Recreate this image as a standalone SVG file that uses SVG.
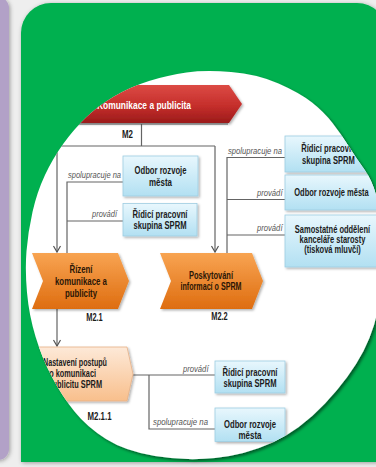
<svg xmlns="http://www.w3.org/2000/svg" width="376" height="467" viewBox="0 0 376 467">
<defs>
<style>
.t{font-family:'Liberation Sans',Arial,sans-serif;font-weight:bold;font-size:10px;fill:#1b1b1b;text-anchor:middle}
.tl{text-anchor:start}
.ot{fill:#2a1606}
.lbl{font-family:'Liberation Sans',Arial,sans-serif;font-style:italic;font-size:9.5px;fill:#555;text-anchor:start}
.con{fill:none;stroke:#646464;stroke-width:1.2}
.arr{marker-end:url(#ah)}
.box{fill:url(#gBlue);stroke:#9dcde2;stroke-width:0.8;filter:url(#sh)}
.chev{fill:url(#gOrange);filter:url(#sh)}
</style>
<linearGradient id="gBlue" x1="0" y1="0" x2="0" y2="1"><stop offset="0" stop-color="#e8f7fd"/><stop offset="1" stop-color="#b2e0f2"/></linearGradient>
<linearGradient id="gOrange" x1="0" y1="0" x2="0" y2="1"><stop offset="0" stop-color="#f8a452"/><stop offset="1" stop-color="#de6d10"/></linearGradient>
<linearGradient id="gPeach" x1="0" y1="0" x2="0" y2="1"><stop offset="0" stop-color="#fde9d8"/><stop offset="1" stop-color="#f8bf8c"/></linearGradient>
<linearGradient id="gRed" x1="0" y1="0" x2="0" y2="1"><stop offset="0" stop-color="#dc4b45"/><stop offset="0.55" stop-color="#c52e2b"/><stop offset="1" stop-color="#9b1b1b"/></linearGradient>
<filter id="sh" x="-20%" y="-20%" width="140%" height="150%"><feDropShadow dx="1.5" dy="1.5" stdDeviation="1.2" flood-color="#000" flood-opacity="0.3"/></filter>
<filter id="psh" x="-20%" y="-20%" width="140%" height="140%"><feDropShadow dx="1" dy="1" stdDeviation="2" flood-color="#000" flood-opacity="0.35"/></filter>
<filter id="wsh" x="-10%" y="-10%" width="120%" height="120%"><feDropShadow dx="2" dy="2" stdDeviation="1.5" flood-color="#000" flood-opacity="0.5"/></filter>
<marker id="ah" markerUnits="userSpaceOnUse" markerWidth="12" markerHeight="12" refX="0" refY="0" orient="auto" overflow="visible"><path d="M-6,-3.5 L0,0 L-6,3.5" fill="none" stroke="#555" stroke-width="1.2"/></marker>
<clipPath id="blob"><path d="M 186.5 72.5 Q 205 70 231 72 Q 257 74 278.5 83.5 Q 300 93 312 102.5 Q 324 112 332.5 123 Q 341 134 348.5 146 Q 356 158 364 169 Q 372 180 376 195 Q 380 210 382 236 Q 384 262 380.5 293.5 Q 377 325 363.5 351 Q 350 377 325 403.5 Q 300 430 272.5 442.5 Q 245 455 215 458 Q 185 461 155 456 Q 125 451 106 439 Q 87 427 74.5 411.5 Q 62 396 52 377 Q 42 358 35.5 336.5 Q 29 315 27 292.5 Q 25 270 26.5 251 Q 28 232 32.5 212 Q 37 192 45 175 Q 53 158 63.5 143.5 Q 74 129 86 117.5 Q 98 106 114 96.5 Q 130 87 149 81 Q 168 75 186.5 72.5 Z"/></clipPath>
</defs>

<rect width="376" height="467" fill="#eeeeee"/>
<rect x="-40" y="-3" width="49" height="463" rx="11" fill="#b2a1c7" filter="url(#psh)"/>
<path d="M21,33 A30,30 0 0 1 51,3 L357,3 A30,30 0 0 1 387,33 L387,462 L21,462 Z" fill="#00b050" filter="url(#psh)"/>
<path d="M 186.5 72.5 Q 205 70 231 72 Q 257 74 278.5 83.5 Q 300 93 312 102.5 Q 324 112 332.5 123 Q 341 134 348.5 146 Q 356 158 364 169 Q 372 180 376 195 Q 380 210 382 236 Q 384 262 380.5 293.5 Q 377 325 363.5 351 Q 350 377 325 403.5 Q 300 430 272.5 442.5 Q 245 455 215 458 Q 185 461 155 456 Q 125 451 106 439 Q 87 427 74.5 411.5 Q 62 396 52 377 Q 42 358 35.5 336.5 Q 29 315 27 292.5 Q 25 270 26.5 251 Q 28 232 32.5 212 Q 37 192 45 175 Q 53 158 63.5 143.5 Q 74 129 86 117.5 Q 98 106 114 96.5 Q 130 87 149 81 Q 168 75 186.5 72.5 Z" fill="#ffffff" filter="url(#wsh)"/>

<g clip-path="url(#blob)">
<g id="connectors">
<path class="con" d="M0,124 H228"/>
<path class="con" d="M141.5,124 V146"/>
<path class="con" d="M57,146 H215"/>
<path class="con arr" d="M57,146 V252"/>
<path class="con arr" d="M215,146 V252"/>
<path class="con" d="M123,182 H67 V253"/>
<path class="con" d="M67,221 H123"/>
<path class="con" d="M285,157.5 H227 V253"/>
<path class="con" d="M227,199.5 H285"/>
<path class="con" d="M227,235 H285"/>
<path class="con arr" d="M57,309 V346"/>
<path class="con" d="M133,375 H215"/>
<path class="con" d="M149,375 V429 H215"/>
<text class="lbl" x="68" y="178" textLength="53" lengthAdjust="spacingAndGlyphs">spolupracuje na</text>
<text class="lbl" x="92" y="217" textLength="25" lengthAdjust="spacingAndGlyphs">provádí</text>
<text class="lbl" x="228" y="153.5" textLength="54" lengthAdjust="spacingAndGlyphs">spolupracuje na</text>
<text class="lbl" x="257" y="195.5" textLength="25.5" lengthAdjust="spacingAndGlyphs">provádí</text>
<text class="lbl" x="257" y="231" textLength="25.5" lengthAdjust="spacingAndGlyphs">provádí</text>
<text class="lbl" x="183" y="372" textLength="25.5" lengthAdjust="spacingAndGlyphs">provádí</text>
<text class="lbl" x="153" y="425" textLength="55" lengthAdjust="spacingAndGlyphs">spolupracuje na</text>
</g>

<g id="n-m2">
<polygon points="-10,85 229,85 242,104 229,123 -10,123" fill="url(#gRed)" filter="url(#sh)"/>
<text class="t tl" x="97" y="109" style="fill:#ffffff;font-size:11px" textLength="94" lengthAdjust="spacingAndGlyphs">Komunikace a publicita</text>
<text class="t" x="127.5" y="138" textLength="11" lengthAdjust="spacingAndGlyphs">M2</text>
</g>

<g id="n-odbor-1">
<rect class="box" x="123" y="156" width="75" height="40"/>
<text class="t" x="160.5" y="174" textLength="52" lengthAdjust="spacingAndGlyphs">Odbor rozvoje</text>
<text class="t" x="160.5" y="186" textLength="23" lengthAdjust="spacingAndGlyphs">města</text>
</g>

<g id="n-ridici-1">
<rect class="box" x="123" y="203.5" width="74" height="32.5"/>
<text class="t" x="160" y="217.5" textLength="55" lengthAdjust="spacingAndGlyphs">Řídicí pracovní</text>
<text class="t" x="160" y="229" textLength="53" lengthAdjust="spacingAndGlyphs">skupina SPRM</text>
</g>

<g id="n-ridici-2">
<rect class="box" x="285" y="136" width="87" height="36"/>
<text class="t" transform="translate(328.5,152) scale(0.76,1)">Řídicí pracovní</text>
<text class="t" transform="translate(328.5,164) scale(0.76,1)">skupina SPRM</text>
</g>

<g id="n-odbor-2">
<rect class="box" x="285" y="175" width="95" height="35"/>
<text class="t" transform="translate(331.5,195.5) scale(0.75,1)">Odbor rozvoje města</text>
</g>

<g id="n-samostatne">
<rect class="box" x="285" y="215" width="95" height="52"/>
<text class="t" transform="translate(332.5,232.5) scale(0.75,1)">Samostatné oddělení</text>
<text class="t" transform="translate(332.5,242.5) scale(0.75,1)">kanceláře starosty</text>
<text class="t" transform="translate(332.5,252.5) scale(0.75,1)">(tisková mluvčí)</text>
</g>

<g id="n-rizeni">
<polygon class="chev" points="32,253 118,253 129,281 118,309 32,309 43,281"/>
<text class="t ot" x="81" y="272.5" textLength="23" lengthAdjust="spacingAndGlyphs">Řízení</text>
<text class="t ot" x="81" y="284.5" textLength="52" lengthAdjust="spacingAndGlyphs">komunikace a</text>
<text class="t ot" x="81" y="296.5" textLength="32" lengthAdjust="spacingAndGlyphs">publicity</text>
<text class="t" x="94.5" y="321" textLength="16.5" lengthAdjust="spacingAndGlyphs">M2.1</text>
</g>

<g id="n-poskytovani">
<polygon class="chev" points="160,253 252,253 263,281 252,309 160,309 171,281"/>
<text class="t ot" x="211" y="278.5" textLength="44" lengthAdjust="spacingAndGlyphs">Poskytování</text>
<text class="t ot" x="211" y="289.5" textLength="61" lengthAdjust="spacingAndGlyphs">informací o SPRM</text>
<text class="t" x="219.5" y="320" textLength="16.5" lengthAdjust="spacingAndGlyphs">M2.2</text>
</g>

<g id="n-nastaveni">
<polygon points="10,347 127,347 133,374 127,401 10,401" fill="url(#gPeach)" stroke="#e6b086" stroke-width="0.8" filter="url(#sh)"/>
<text class="t tl" x="43" y="366" textLength="64" lengthAdjust="spacingAndGlyphs">Nastavení postupů</text>
<text class="t tl" x="42" y="377" textLength="54" lengthAdjust="spacingAndGlyphs">pro komunikaci</text>
<text class="t tl" x="42" y="388" textLength="60" lengthAdjust="spacingAndGlyphs">a publicitu SPRM</text>
<text class="t" x="99.5" y="420" textLength="24" lengthAdjust="spacingAndGlyphs">M2.1.1</text>
</g>

<g id="n-ridici-3">
<rect class="box" x="215" y="361" width="70" height="32"/>
<text class="t" x="250" y="376" textLength="55" lengthAdjust="spacingAndGlyphs">Řídicí pracovní</text>
<text class="t" x="250" y="387" textLength="53" lengthAdjust="spacingAndGlyphs">skupina SPRM</text>
</g>

<g id="n-odbor-3">
<rect class="box" x="215" y="408" width="70" height="33.5"/>
<text class="t" x="250" y="427.5" textLength="52" lengthAdjust="spacingAndGlyphs">Odbor rozvoje</text>
<text class="t" x="250" y="439" textLength="23" lengthAdjust="spacingAndGlyphs">města</text>
</g>
</g>
</svg>
